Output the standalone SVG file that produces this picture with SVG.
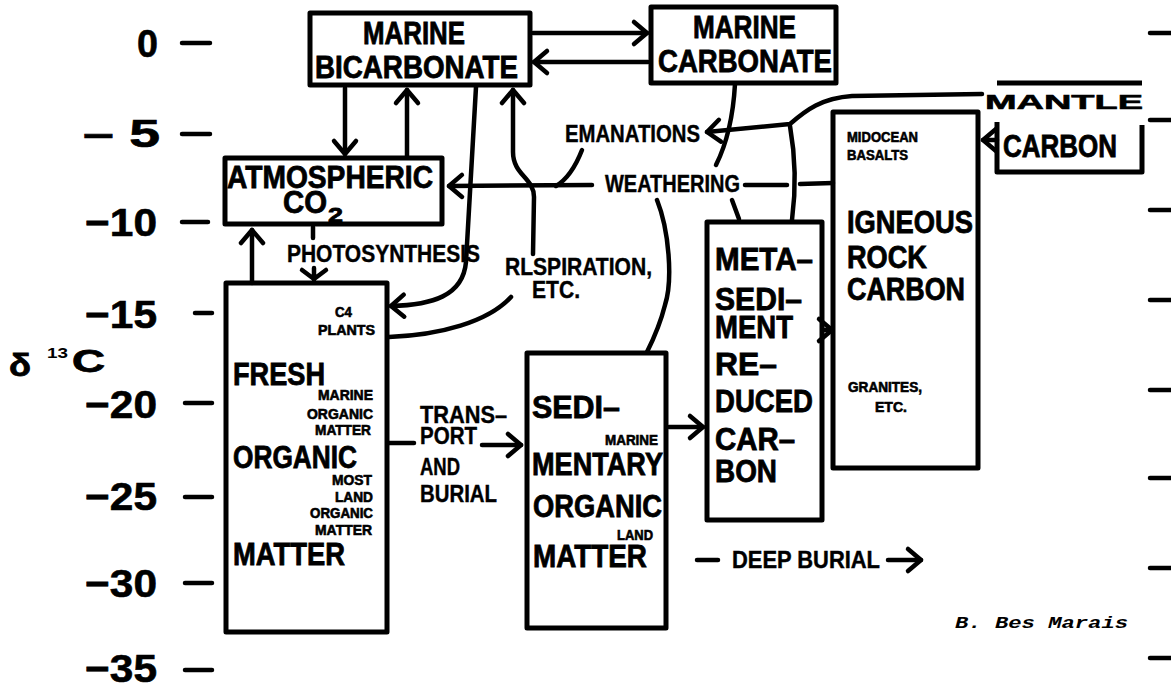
<svg xmlns="http://www.w3.org/2000/svg" width="1171" height="690" viewBox="0 0 1171 690">
<style>
.bg{fill:#fff}
.box{fill:none;stroke:#000;stroke-width:5;stroke-linejoin:round}
.ln{fill:none;stroke:#000;stroke-width:4.5;stroke-linecap:round;stroke-linejoin:round}
.arr{marker-end:url(#ah)}
text{font-family:"Liberation Sans",Arial,sans-serif;font-weight:bold;fill:#000}
.big{font-size:31px;stroke:#000;stroke-width:0.8}
.med{font-size:23px;stroke:#000;stroke-width:0.4}
.sm{font-size:14px;stroke:#000;stroke-width:0.6}
.ax{font-size:39px;stroke:#000;stroke-width:0.6}
.wide{font-size:21px;stroke:#000;stroke-width:0.6}
.sig{font-family:"Liberation Mono","Courier New",monospace;font-style:italic;font-size:17px}
</style>
<defs>
<marker id="ah" viewBox="-16 -14 18 28" refX="0" refY="0" markerWidth="18" markerHeight="28" markerUnits="userSpaceOnUse" orient="auto" overflow="visible">
<path d="M -13 -11 L 0 0 L -13 11" fill="none" stroke="#000" stroke-width="4.5" stroke-linecap="round" stroke-linejoin="round"/>
</marker>
</defs>
<rect class="bg" x="0" y="0" width="1171" height="690"/>

<g id="axis">
<g class="ln">
<path d="M182 43H210M182 134H210M182 222H208M195 313H212M185 403H212M185 497H212M185 583H212M185 670H212"/>
<path d="M1150 33H1171M1150 120H1171M1150 210H1171M1150 300H1171M1150 390H1171M1150 478H1171M1150 568H1171M1150 658H1171"/>
</g>
<text class="ax" x="137" y="57" textLength="21" lengthAdjust="spacingAndGlyphs">0</text>
<text class="ax" x="83" y="147" textLength="77" lengthAdjust="spacingAndGlyphs">– 5</text>
<text class="ax" x="85" y="236" textLength="72" lengthAdjust="spacingAndGlyphs">−10</text>
<text class="ax" x="85" y="328" textLength="72" lengthAdjust="spacingAndGlyphs">−15</text>
<text class="ax" x="85" y="418" textLength="72" lengthAdjust="spacingAndGlyphs">−20</text>
<text class="ax" x="85" y="510" textLength="72" lengthAdjust="spacingAndGlyphs">−25</text>
<text class="ax" x="85" y="597" textLength="72" lengthAdjust="spacingAndGlyphs">−30</text>
<text class="ax" x="85" y="682" textLength="72" lengthAdjust="spacingAndGlyphs">−35</text>
<text class="big" x="9" y="376" textLength="22" lengthAdjust="spacingAndGlyphs">δ</text>
<text style="font-size:15px" x="47" y="358" textLength="21" lengthAdjust="spacingAndGlyphs">13</text>
<text class="big" x="72" y="372" textLength="33" lengthAdjust="spacingAndGlyphs">C</text>
</g>

<g id="connectors">
<path class="ln arr" d="M533 33 L647 33"/>
<path class="ln arr" d="M648 62 L534 62"/>
<path class="ln arr" d="M345 88 L345 154"/>
<path class="ln arr" d="M407 157 L407 90"/>
<path class="ln arr" d="M476 87 L466 262 C463 296 432 305 391 306"/>
<path class="ln" d="M389 337 C440 335 488 322 511 297"/>
<path class="ln arr" d="M533 254 L534 197 C534 178 513 175 513 152 L513 90"/>
<path class="ln" d="M582 150 C575 168 566 180 556 186"/>
<path class="ln arr" d="M592 185 L449 186"/>
<path class="ln" d="M745 185 L787 185"/>
<path class="ln" d="M800 184 L833 183"/>
<path class="ln arr" d="M982 94 L852 96 C822 98 806 110 790 124 L707 132"/>
<path class="ln" d="M790 126 C796 160 796 190 792 220"/>
<path class="ln" d="M735 84 C733 120 726 145 716 165"/>
<path class="ln" d="M732 200 L739 219"/>
<path class="ln" d="M657 200 C669 230 673 280 665 305 C660 325 653 340 647 352"/>
<path class="ln arr" d="M252 283 L252 230"/>
<path class="ln" d="M313 227 L313 238"/>
<path class="ln" d="M314 268 L314 280 M302 270 L314 279 L326 270"/>
<path class="ln" d="M389 443 L414 443"/>
<path class="ln arr" d="M482 445 L521 445"/>
<path class="ln arr" d="M669 427 L703 427"/>
<path class="ln arr" d="M823 330 L832 330"/>
<path class="ln arr" d="M997 140 L983 140"/>
<path class="ln" d="M697 560 L718 560"/>
<path class="ln arr" d="M888 560 L921 560"/>
</g>

<g id="marine-bicarbonate">
<rect class="box" x="310" y="13" width="220" height="72"/>
<text class="big" x="363" y="44" textLength="102" lengthAdjust="spacingAndGlyphs">MARINE</text>
<text class="big" x="315" y="78" textLength="203" lengthAdjust="spacingAndGlyphs">BICARBONATE</text>
</g>

<g id="marine-carbonate">
<rect class="box" x="651" y="7" width="185" height="76"/>
<text class="big" x="693" y="38" textLength="103" lengthAdjust="spacingAndGlyphs">MARINE</text>
<text class="big" x="658" y="72" textLength="174" lengthAdjust="spacingAndGlyphs">CARBONATE</text>
</g>

<g id="atmospheric-co2">
<rect class="box" x="225" y="158" width="217" height="66"/>
<text class="big" x="227" y="188" textLength="206" lengthAdjust="spacingAndGlyphs">ATMOSPHERIC</text>
<text class="big" x="283" y="213" textLength="44" lengthAdjust="spacingAndGlyphs">CO</text>
<text class="big" style="font-size:21px" x="328" y="222" textLength="15" lengthAdjust="spacingAndGlyphs">2</text>
</g>

<g id="fresh-organic-matter">
<rect class="box" x="226" y="283" width="161" height="349"/>
<text class="sm" x="335" y="317" textLength="17" lengthAdjust="spacingAndGlyphs">C4</text>
<text class="sm" x="318" y="335" textLength="57" lengthAdjust="spacingAndGlyphs">PLANTS</text>
<text class="big" x="233" y="385" textLength="92" lengthAdjust="spacingAndGlyphs">FRESH</text>
<text class="sm" x="318" y="400" textLength="55" lengthAdjust="spacingAndGlyphs">MARINE</text>
<text class="sm" x="307" y="419" textLength="66" lengthAdjust="spacingAndGlyphs">ORGANIC</text>
<text class="sm" x="315" y="435" textLength="56" lengthAdjust="spacingAndGlyphs">MATTER</text>
<text class="big" x="233" y="468" textLength="124" lengthAdjust="spacingAndGlyphs">ORGANIC</text>
<text class="sm" x="332" y="485" textLength="40" lengthAdjust="spacingAndGlyphs">MOST</text>
<text class="sm" x="335" y="502" textLength="38" lengthAdjust="spacingAndGlyphs">LAND</text>
<text class="sm" x="310" y="518" textLength="63" lengthAdjust="spacingAndGlyphs">ORGANIC</text>
<text class="sm" x="315" y="535" textLength="57" lengthAdjust="spacingAndGlyphs">MATTER</text>
<text class="big" x="233" y="565" textLength="112" lengthAdjust="spacingAndGlyphs">MATTER</text>
</g>

<g id="sedimentary-organic-matter">
<rect class="box" x="527" y="353" width="139" height="275"/>
<text class="big" x="532" y="418" textLength="88" lengthAdjust="spacingAndGlyphs">SEDI–</text>
<text class="sm" x="605" y="445" textLength="53" lengthAdjust="spacingAndGlyphs">MARINE</text>
<text class="big" x="532" y="475" textLength="131" lengthAdjust="spacingAndGlyphs">MENTARY</text>
<text class="big" x="533" y="517" textLength="129" lengthAdjust="spacingAndGlyphs">ORGANIC</text>
<text class="sm" x="617" y="540" textLength="36" lengthAdjust="spacingAndGlyphs">LAND</text>
<text class="big" x="533" y="567" textLength="114" lengthAdjust="spacingAndGlyphs">MATTER</text>
</g>

<g id="metasediment-reduced-carbon">
<rect class="box" x="707" y="222" width="115" height="298"/>
<text class="big" x="715" y="270" textLength="98" lengthAdjust="spacingAndGlyphs">META–</text>
<text class="big" x="715" y="310" textLength="87" lengthAdjust="spacingAndGlyphs">SEDI–</text>
<text class="big" x="715" y="338" textLength="78" lengthAdjust="spacingAndGlyphs">MENT</text>
<text class="big" x="715" y="375" textLength="62" lengthAdjust="spacingAndGlyphs">RE–</text>
<text class="big" x="715" y="412" textLength="98" lengthAdjust="spacingAndGlyphs">DUCED</text>
<text class="big" x="715" y="450" textLength="80" lengthAdjust="spacingAndGlyphs">CAR–</text>
<text class="big" x="715" y="482" textLength="62" lengthAdjust="spacingAndGlyphs">BON</text>
</g>

<g id="igneous-rock-carbon">
<rect class="box" x="833" y="112" width="145" height="356"/>
<text class="sm" x="847" y="142" textLength="71" lengthAdjust="spacingAndGlyphs">MIDOCEAN</text>
<text class="sm" x="847" y="160" textLength="61" lengthAdjust="spacingAndGlyphs">BASALTS</text>
<text class="big" x="847" y="233" textLength="126" lengthAdjust="spacingAndGlyphs">IGNEOUS</text>
<text class="big" x="847" y="268" textLength="80" lengthAdjust="spacingAndGlyphs">ROCK</text>
<text class="big" x="847" y="300" textLength="118" lengthAdjust="spacingAndGlyphs">CARBON</text>
<text class="sm" x="848" y="392" textLength="74" lengthAdjust="spacingAndGlyphs">GRANITES,</text>
<text class="sm" x="875" y="412" textLength="32" lengthAdjust="spacingAndGlyphs">ETC.</text>
</g>

<g id="mantle-carbon">
<path class="box" d="M997 83 L1142 83 M997 122 L997 172 L1142 172 L1142 125"/>
<text class="wide" x="985" y="109" textLength="158" lengthAdjust="spacingAndGlyphs">MANTLE</text>
<text class="big" x="1003" y="157" textLength="114" lengthAdjust="spacingAndGlyphs">CARBON</text>
</g>

<g id="labels">
<text class="med" x="287" y="262" textLength="193" lengthAdjust="spacingAndGlyphs">PHOTOSYNTHESIS</text>
<text class="med" x="505" y="275" textLength="147" lengthAdjust="spacingAndGlyphs">RLSPIRATION,</text>
<text class="med" x="532" y="298" textLength="48" lengthAdjust="spacingAndGlyphs">ETC.</text>
<text class="med" x="565" y="142" textLength="135" lengthAdjust="spacingAndGlyphs">EMANATIONS</text>
<text class="med" x="605" y="192" textLength="135" lengthAdjust="spacingAndGlyphs">WEATHERING</text>
<text class="med" x="420" y="423" textLength="87" lengthAdjust="spacingAndGlyphs">TRANS–</text>
<text class="med" x="420" y="444" textLength="57" lengthAdjust="spacingAndGlyphs">PORT</text>
<text class="med" x="420" y="475" textLength="40" lengthAdjust="spacingAndGlyphs">AND</text>
<text class="med" x="420" y="502" textLength="77" lengthAdjust="spacingAndGlyphs">BURIAL</text>
<text class="med" x="732" y="568" textLength="148" lengthAdjust="spacingAndGlyphs">DEEP BURIAL</text>
<text class="sig" x="955" y="628" textLength="173" lengthAdjust="spacingAndGlyphs">B. Bes Marais</text>
</g>
</svg>
